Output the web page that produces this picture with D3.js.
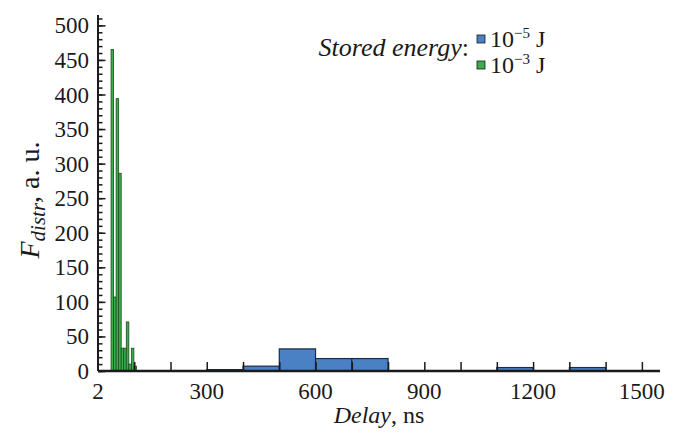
<!DOCTYPE html>
<html>
<head>
<meta charset="utf-8">
<script src="https://cdn.jsdelivr.net/npm/d3@7"></script>
<style>
  body { margin: 0; background: #fff; }
  svg text { font-family: "Liberation Serif", "Times New Roman", serif; fill: #1a1a1a; }
</style>
</head>
<body>
<div id="chart"></div>
<script>
// blue series: 10^-5 J, bins of 100 ns
const blueStarts = [300, 400, 500, 600, 700, 1100, 1300];
const blueValues = [2, 7, 32, 18, 18, 5, 5];
const blueWidth = 100;

// green series: 10^-3 J, narrow bins at short delay
const greenStarts = [36, 43, 50, 57, 64, 71, 78, 85, 92, 99];
const greenValues = [465, 107, 394, 286, 33, 33, 71, 10, 33, 7];
const greenWidth = 7;

const xTicks = [0, 300, 600, 900, 1200, 1500];
const xTickLabels = ["2", "300", "600", "900", "1200", "1500"];
const yTicks = [0, 50, 100, 150, 200, 250, 300, 350, 400, 450, 500];

const W = 678, H = 435;
const margin = {top: 15, right: 18, bottom: 64, left: 98};
const width = W - margin.left - margin.right,
      height = H - margin.top - margin.bottom;

const svg = d3.select("#chart").append("svg")
    .attr("width", W).attr("height", H);
const g = svg.append("g")
    .attr("transform", `translate(${margin.left},${margin.top})`);

const x = d3.scaleLinear().domain([0, 1550]).range([0, width]);
const y = d3.scaleLinear().domain([0, 515]).range([height, 0]);

// blue bars
g.selectAll("rect.blue")
  .data(blueStarts.map((s, i) => ({s, v: blueValues[i]})))
  .join("rect")
    .attr("class", "blue")
    .attr("x", d => x(d.s))
    .attr("y", d => y(d.v))
    .attr("width", d => x(d.s + blueWidth) - x(d.s))
    .attr("height", d => y(0) - y(d.v))
    .attr("fill", "#4a80c4")
    .attr("stroke", "#1c2b45")
    .attr("stroke-width", 1.2);

// green bars
g.selectAll("rect.green")
  .data(greenStarts.map((s, i) => ({s, v: greenValues[i]})))
  .join("rect")
    .attr("class", "green")
    .attr("x", d => x(d.s))
    .attr("y", d => y(d.v))
    .attr("width", d => x(d.s + greenWidth) - x(d.s))
    .attr("height", d => y(0) - y(d.v))
    .attr("fill", "#3aae48")
    .attr("stroke", "#1d4a22")
    .attr("stroke-width", 0.8);

// y axis: minor ticks every 10, major every 50, drawn inward
const yAx = g.append("g");
yAx.append("g")
    .call(d3.axisRight(y).tickValues(d3.range(0, 511, 10)).tickSize(4.5).tickFormat(""))
    .call(a => a.select(".domain").remove())
    .selectAll("line").attr("stroke", "#1a1a1a").attr("stroke-width", 1.5);
yAx.append("g")
    .call(d3.axisRight(y).tickValues(yTicks).tickSize(7.5).tickFormat(""))
    .call(a => a.select(".domain").remove())
    .selectAll("line").attr("stroke", "#1a1a1a").attr("stroke-width", 1.5);
yAx.append("line")
    .attr("x1", 0).attr("x2", 0).attr("y1", 0).attr("y2", height)
    .attr("stroke", "#1a1a1a").attr("stroke-width", 2);
yAx.selectAll("text.ylab")
  .data(yTicks)
  .join("text")
    .attr("class", "ylab")
    .attr("x", -9)
    .attr("y", d => y(d))
    .attr("dy", "0.35em")
    .attr("text-anchor", "end")
    .attr("font-size", 23)
    .text(d => d);

// x axis: ticks every 100, drawn inward
const xAx = g.append("g").attr("transform", `translate(0,${height})`);
xAx.call(d3.axisTop(x).tickValues(d3.range(100, 1501, 100)).tickSize(9).tickFormat(""))
    .call(a => a.select(".domain").remove())
    .selectAll("line").attr("stroke", "#1a1a1a").attr("stroke-width", 1.5);
xAx.append("line")
    .attr("x1", 0).attr("x2", width).attr("y1", 0).attr("y2", 0)
    .attr("stroke", "#1a1a1a").attr("stroke-width", 2.5);
xAx.selectAll("text.xlab")
  .data(xTicks)
  .join("text")
    .attr("class", "xlab")
    .attr("x", d => x(d))
    .attr("y", 28)
    .attr("text-anchor", "middle")
    .attr("font-size", 23)
    .text((d, i) => xTickLabels[i]);

// axis titles
const xt = svg.append("text")
    .attr("x", margin.left + width / 2)
    .attr("y", 423)
    .attr("text-anchor", "middle")
    .attr("font-size", 24);
xt.append("tspan").attr("font-style", "italic").text("Delay");
xt.append("tspan").text(", ns");

const yt = svg.append("text")
    .attr("transform", "translate(39,200) rotate(-90)")
    .attr("text-anchor", "middle")
    .attr("font-size", 28);
yt.append("tspan").attr("font-style", "italic").text("F");
yt.append("tspan").attr("font-style", "italic").attr("font-size", 21).attr("dy", 6).text("distr");
yt.append("tspan").attr("dy", -6).text(", a. u.");

// legend
const lg = svg.append("g");
const lt = lg.append("text")
    .attr("x", 469).attr("y", 56)
    .attr("text-anchor", "end")
    .attr("font-size", 26);
lt.append("tspan").attr("font-style", "italic").text("Stored energy");
lt.append("tspan").text(":");

const legendItems = [
  {color: "#4a80c4", exp: "\u22125", yy: 47},
  {color: "#3aae48", exp: "\u22123", yy: 73}
];
legendItems.forEach(it => {
  lg.append("rect")
      .attr("x", 477).attr("y", it.yy - 12)
      .attr("width", 8).attr("height", 8)
      .attr("fill", it.color)
      .attr("stroke", "#1a1a1a").attr("stroke-width", 0.8);
  const t = lg.append("text")
      .attr("x", 490).attr("y", it.yy)
      .attr("font-size", 24);
  t.append("tspan").text("10");
  t.append("tspan").attr("font-size", 15).attr("dy", -9).text(it.exp);
  t.append("tspan").attr("dy", 9).text(" J");
});
</script>
</body>
</html>
